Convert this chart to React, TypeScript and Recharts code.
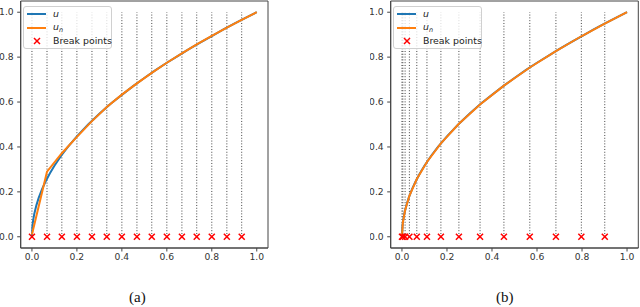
import { ComposedChart, Line, Scatter, XAxis, YAxis, ReferenceArea } from 'recharts';

// exact solution u
const uX = [0, 0.002, 0.005, 0.01, 0.02, 0.03, 0.045, 0.06, 0.08, 0.1, 0.13, 0.16, 0.2, 0.25, 0.3, 0.35, 0.4, 0.45, 0.5, 0.55, 0.6, 0.65, 0.7, 0.75, 0.8, 0.85, 0.9, 0.95, 1.0];
const uY = [0, 0.045, 0.071, 0.1, 0.141, 0.173, 0.212, 0.245, 0.283, 0.316, 0.361, 0.4, 0.447, 0.5, 0.548, 0.592, 0.632, 0.671, 0.707, 0.742, 0.775, 0.806, 0.837, 0.866, 0.894, 0.922, 0.949, 0.975, 1.0];

// (a) uniform mesh
const breaksA = [0, 0.067, 0.133, 0.2, 0.267, 0.333, 0.4, 0.467, 0.533, 0.6, 0.667, 0.733, 0.8, 0.867, 0.933];
const nodesA = [0, 0.067, 0.133, 0.2, 0.267, 0.333, 0.4, 0.467, 0.533, 0.6, 0.667, 0.733, 0.8, 0.867, 0.933, 1.0];
const unA = [0.01, 0.29, 0.372, 0.445, 0.515, 0.578, 0.633, 0.683, 0.73, 0.775, 0.817, 0.857, 0.895, 0.931, 0.966, 1.0];

// (b) graded mesh
const breaksB = [0, 0.004, 0.014, 0.033, 0.066, 0.111, 0.173, 0.253, 0.347, 0.453, 0.568, 0.684, 0.797, 0.901];
const nodesB = [0, 0.004, 0.014, 0.033, 0.066, 0.111, 0.173, 0.253, 0.347, 0.453, 0.568, 0.684, 0.797, 0.901, 1.0];
const unB = [0, 0.063, 0.118, 0.182, 0.257, 0.333, 0.416, 0.503, 0.589, 0.673, 0.754, 0.827, 0.893, 0.949, 1.0];

const ticks = [0, 0.2, 0.4, 0.6, 0.8, 1.0];

const BLUE = '#1f77b4';
const ORANGE = '#ff7f0e';
const FONT = 'DejaVu Sans';

const zip = (xs: number[], ys: number[]) => xs.map((x, i) => ({ x, y: ys[i] }));

function Cross(props: any) {
  const { cx, cy } = props;
  if (cx == null || cy == null) return null;
  const s = 3;
  return (
    <g stroke="#ff0000" strokeWidth={1.5}>
      <line x1={cx - s} y1={cy - s} x2={cx + s} y2={cy + s} />
      <line x1={cx - s} y1={cy + s} x2={cx + s} y2={cy - s} />
    </g>
  );
}

function LegendBox({ left }: { left: number }) {
  const text = { position: 'absolute' as const, left: 29, fontFamily: FONT, fontSize: 9.4, color: '#222', lineHeight: '10px', whiteSpace: 'nowrap' as const };
  return (
    <div
      style={{
        position: 'absolute',
        left,
        top: 6,
        width: 89,
        height: 43,
        boxSizing: 'border-box',
        border: '1px solid #d0d0d0',
        borderRadius: 3,
        background: 'rgba(255,255,255,0.8)',
      }}
    >
      <div style={{ position: 'absolute', left: 3, top: 6, width: 19, height: 2, background: BLUE }} />
      <span style={{ ...text, top: 2, fontStyle: 'italic' }}>u</span>
      <div style={{ position: 'absolute', left: 3, top: 19.5, width: 19, height: 2, background: ORANGE }} />
      <span style={{ ...text, top: 15, fontStyle: 'italic' }}>
        u<sub style={{ fontSize: 6.5, verticalAlign: '-2px' }}>n</sub>
      </span>
      <svg style={{ position: 'absolute', left: 9, top: 30 }} width={8} height={8}>
        <g stroke="#ff0000" strokeWidth={1.5}>
          <line x1={1} y1={1} x2={7} y2={7} />
          <line x1={1} y1={7} x2={7} y2={1} />
        </g>
      </svg>
      <span style={{ ...text, top: 29 }}>Break points</span>
    </div>
  );
}

function Panel({ left, breaks, nodes, un, marginRight }: { left: number; breaks: number[]; nodes: number[]; un: number[]; marginRight: number }) {
  const tick = { fontSize: 9.2, fill: '#333', fontFamily: FONT };
  return (
    <div style={{ position: 'absolute', left, top: 0 }}>
      <ComposedChart width={270} height={265} margin={{ top: 1, right: marginRight, left: 0, bottom: 0 }}>
        <XAxis
          type="number"
          dataKey="x"
          domain={[-0.05, 1.05]}
          ticks={ticks}
          tickFormatter={(v: number) => v.toFixed(1)}
          height={17}
          tickSize={3.5}
          tickMargin={2}
          stroke="#444"
          tick={tick}
          allowDataOverflow
        />
        <YAxis
          type="number"
          dataKey="y"
          domain={[-0.05, 1.05]}
          ticks={ticks}
          tickFormatter={(v: number) => v.toFixed(1)}
          width={20.7}
          tickSize={3.5}
          tickMargin={3.5}
          stroke="#444"
          tick={tick}
          allowDataOverflow
        />
        <ReferenceArea x1={-0.05} x2={1.05} y1={-0.05} y2={1.05} fill="none" stroke="#444" strokeWidth={1} />
        {breaks.map((b) => (
          <Line
            key={b}
            data={[{ x: b, y: 0 }, { x: b, y: 1 }]}
            dataKey="y"
            stroke="#444"
            strokeWidth={1}
            strokeDasharray="1 1.8"
            dot={false}
            isAnimationActive={false}
          />
        ))}
        <Line data={zip(uX, uY)} dataKey="y" stroke={BLUE} strokeWidth={2} dot={false} isAnimationActive={false} />
        <Line data={zip(nodes, un)} dataKey="y" stroke={ORANGE} strokeWidth={2} dot={false} isAnimationActive={false} />
        <Scatter data={breaks.map((b) => ({ x: b, y: 0 }))} dataKey="y" shape={<Cross />} isAnimationActive={false} />
      </ComposedChart>
    </div>
  );
}

export default function App() {
  const caption = { position: 'absolute' as const, top: 289, fontFamily: '"Liberation Serif", serif', fontSize: 15, color: '#111' };
  return (
    <div style={{ position: 'fixed', left: 0, top: 0, width: 640, height: 307, background: '#fff', overflow: 'hidden' }}>
      <Panel left={0} breaks={breaksA} nodes={nodesA} un={unA} marginRight={2} />
      <Panel left={370} breaks={breaksB} nodes={nodesB} un={unB} marginRight={1.7} />
      <LegendBox left={23} />
      <LegendBox left={393} />
      <div style={{ ...caption, left: 129 }}>(a)</div>
      <div style={{ ...caption, left: 496 }}>(b)</div>
    </div>
  );
}
